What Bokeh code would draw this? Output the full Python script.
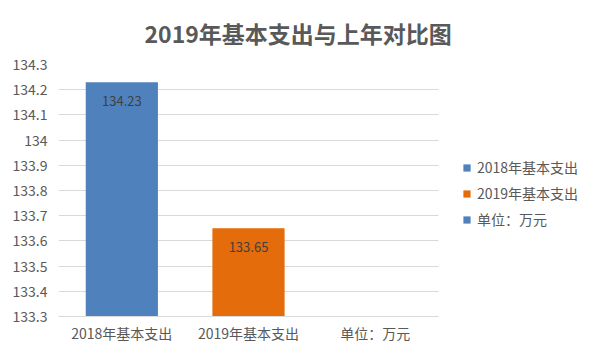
from bokeh.plotting import figure
from bokeh.models import (ColumnDataSource, FixedTicker, Legend, LegendItem, Range1d,
                          BoxAnnotation)
from bokeh.core.properties import value
from bokeh.embed import file_html
from bokeh.resources import INLINE

title_text = "2019年基本支出与上年对比图"
categories = ["2018年基本支出", "2019年基本支出", "单位：万元"]
series_names = ["2018年基本支出", "2019年基本支出", "单位：万元"]
series_values = [134.23, 133.65, float("nan")]   # the unit entry has no bar
series_colors = ["#4F81BD", "#E46C0A", "#4F81BD"]
y_ticks = [133.3, 133.4, 133.5, 133.6, 133.7, 133.8, 133.9, 134, 134.1, 134.2, 134.3]
y_tick_labels = ["133.3", "133.4", "133.5", "133.6", "133.7", "133.8", "133.9", "134", "134.1", "134.2", "134.3"]
y_min, y_max = 133.3, 134.3

FONT = "Noto Sans CJK SC"
TXT = "#595959"

W, H = 584, 345
LEFT, BOTTOM, TOP = 58, 26, 64
PLOT_W = 380                      # width of the category area in px
n_cat = len(categories)
x_end = n_cat * (W - LEFT) / PLOT_W  # frame continues under the legend area
cat_pos = [i + 0.5 for i in range(n_cat)]

p = figure(x_range=Range1d(0, x_end), y_range=Range1d(y_min, y_max),
           width=W, height=H, output_backend="svg", toolbar_location=None,
           min_border_left=LEFT, min_border_right=0, min_border_top=TOP, min_border_bottom=BOTTOM)

p.title.text = title_text
p.title.text_font = FONT
p.title.text_font_size = "23px"
p.title.text_font_style = "bold"
p.title.text_color = TXT
p.title.align = "left"
p.title.offset = 86
p.title.vertical_align = "top"
p.title.standoff = 26

p.outline_line_color = None
p.background_fill_color = "white"
p.border_fill_color = "white"

p.xgrid.grid_line_color = None
p.ygrid.grid_line_color = "#D9D9D9"
p.ygrid.grid_line_width = 1

p.yaxis.ticker = FixedTicker(ticks=y_ticks)
p.yaxis.major_label_overrides = {t: l for t, l in zip(y_ticks, y_tick_labels)}
p.yaxis.axis_line_color = None
p.yaxis.major_tick_line_color = None
p.yaxis.minor_tick_line_color = None
p.yaxis.major_tick_out = 0
p.yaxis.major_tick_in = 0
p.yaxis.major_label_text_font = FONT
p.yaxis.major_label_text_font_size = "14px"
p.yaxis.major_label_text_color = TXT
p.yaxis.major_label_standoff = 11

p.xaxis.ticker = FixedTicker(ticks=cat_pos)
p.xaxis.major_label_overrides = {x: c for x, c in zip(cat_pos, categories)}
p.xaxis.bounds = (0, n_cat)
p.xaxis.axis_line_color = "#D9D9D9"
p.xaxis.major_tick_line_color = None
p.xaxis.minor_tick_line_color = None
p.xaxis.major_tick_out = 0
p.xaxis.major_tick_in = 0
p.xaxis.major_label_text_font = FONT
p.xaxis.major_label_text_font_size = "14px"
p.xaxis.major_label_text_color = TXT
p.xaxis.major_label_standoff = 6

# hide grid lines to the right of the category area (legend area)
p.add_layout(BoxAnnotation(left=n_cat, fill_color="white", fill_alpha=1.0,
                           line_alpha=0, level="underlay"))

items = []
for i, name in enumerate(series_names):
    v = series_values[i]
    src = ColumnDataSource(dict(x=[cat_pos[i]], top=[v],
                                lbl=["" if v != v else f"{v:.2f}"]))
    r = p.vbar(x="x", top="top", bottom=y_min, width=0.57, source=src,
               fill_color=series_colors[i], line_color=None)
    p.text(x="x", y="top", text="lbl", source=src, y_offset=19,
           text_align="center", text_baseline="middle", text_font=value(FONT),
           text_font_size="13px", text_color="#404040")
    items.append(LegendItem(label=name, renderers=[r]))

legend = Legend(items=items, location=(404, 87), orientation="vertical",
                glyph_width=9, glyph_height=9, label_standoff=6,
                label_text_font=FONT, label_text_font_size="14px", label_text_color=TXT,
                label_height=20, spacing=6, padding=0, margin=0,
                border_line_color=None, background_fill_alpha=0)
p.add_layout(legend, "center")

open("out.html", "w").write(file_html(p, INLINE))
